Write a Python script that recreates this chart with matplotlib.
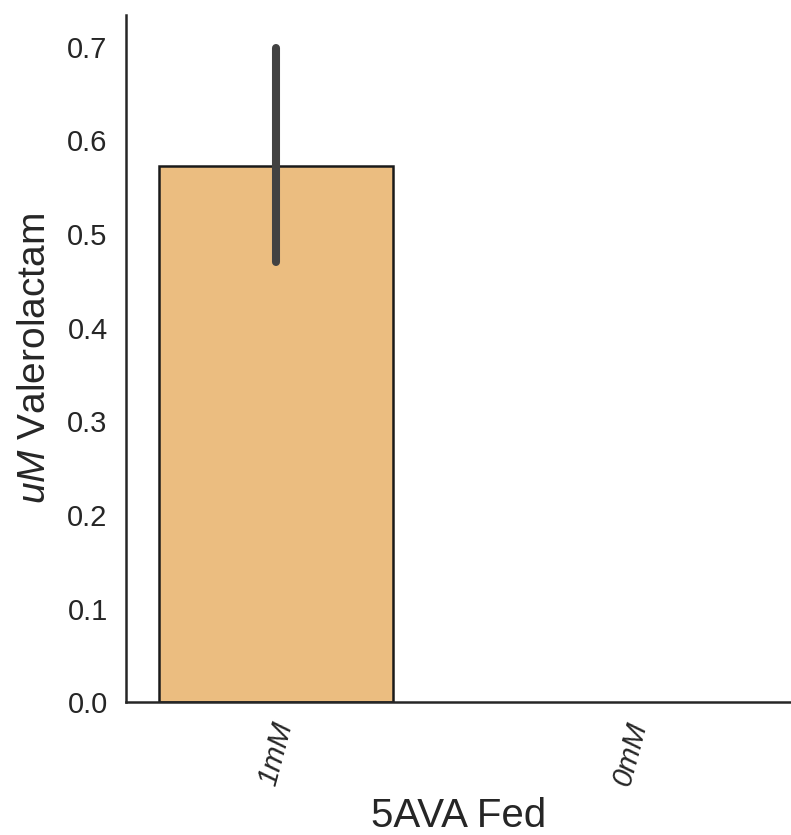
import numpy as np
import matplotlib.pyplot as plt

plt.rcParams['font.family'] = ['Liberation Sans', 'DejaVu Sans']
plt.rcParams['mathtext.fontset'] = 'custom'
plt.rcParams['mathtext.it'] = 'Liberation Sans:italic'
plt.rcParams['mathtext.rm'] = 'Liberation Sans'

# data
groups = ['1mM', '0mM']
means = [0.573, 0.0]
ci_low = [0.470, 0.0]
ci_high = [0.699, 0.0]

fig = plt.figure(figsize=(7.91, 8.35), dpi=100)
ax = fig.add_axes([0.159, 0.159, 0.841, 0.823])

x = np.arange(len(groups))
edge_w = [1.8 if m > 0 else 0 for m in means]
ax.bar(x, means, width=0.66, color='#EBBD80', edgecolor='#1a1a1a', linewidth=edge_w)
for i in range(len(groups)):
    if ci_high[i] > ci_low[i]:
        ax.plot([x[i], x[i]], [ci_low[i], ci_high[i]], color='#424242',
                linewidth=5.8, solid_capstyle='round')

ax.set_xlim(-0.424, 1.455)
ax.set_ylim(0, 0.734)
yt = np.arange(0, 0.71, 0.1)
ax.set_yticks(yt)
ax.set_yticklabels(['%.1f' % v for v in yt], fontsize=21, color='#262626')
ax.set_xticks(x)
ax.set_xticklabels(groups, rotation=75, style='italic', fontsize=21, color='#262626')
ax.tick_params(length=0)
ax.tick_params(axis='y', pad=13)
ax.tick_params(axis='x', pad=12)

for s in ['top', 'right']:
    ax.spines[s].set_visible(False)
for s in ['left', 'bottom']:
    ax.spines[s].set_linewidth(1.8)
    ax.spines[s].set_color('#262626')

ax.set_ylabel('$uM$ Valerolactam', fontsize=28, color='#262626', labelpad=10)
ax.set_xlabel('5AVA Fed', fontsize=29, color='#262626', labelpad=6)

fig.savefig('out.png', dpi=100)
